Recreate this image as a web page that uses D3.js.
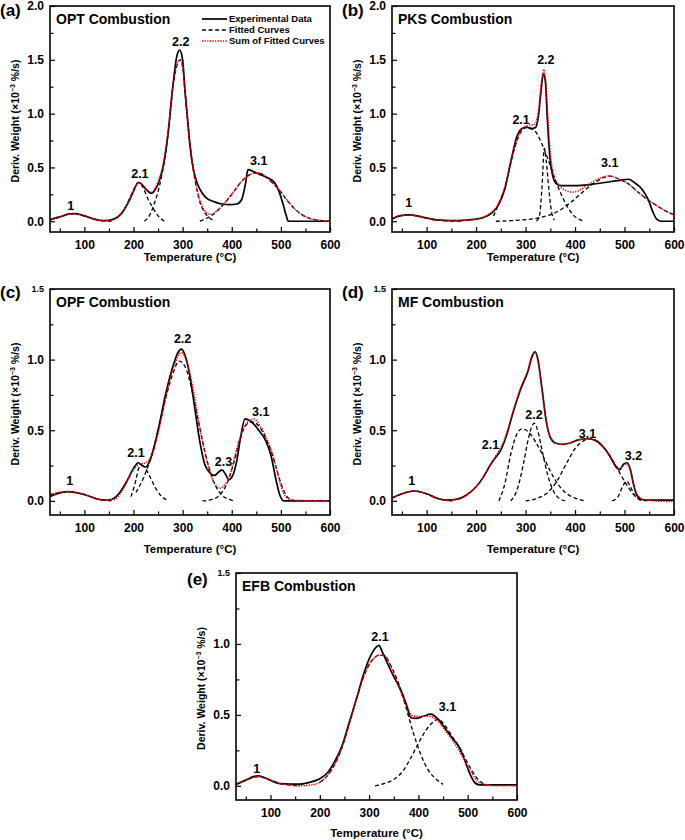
<!DOCTYPE html>
<html><head><meta charset="utf-8">
<script src="https://cdn.jsdelivr.net/npm/d3@7"></script>
<style>
body{margin:0;background:#fff;}
svg{font-family:"Liberation Sans",Arial,Helvetica,sans-serif;font-weight:bold;}
</style></head><body>
<svg id="chart" width="685" height="840"></svg>
<script>
// ---------- tick values ----------
const xTicks = [100, 200, 300, 400, 500, 600];
const xMinor = [50, 150, 250, 350, 450, 550];
const yTicksTall = [0, 0.5, 1.0, 1.5, 2.0];
const yMinorTall = [0.25, 0.75, 1.25, 1.75];
const yTicksShort = [0, 0.5, 1.0, 1.5];
const yMinorShort = [0.25, 0.75, 1.25];
const legendItems = ["Experimental Data", "Fitted Curves", "Sum of Fitted Curves"];

// ---------- (a) OPT ----------
const optExp = [[30,0.015],[50,0.04],[70,0.068],[82,0.07],[100,0.05],[120,0.02],[140,0.005],[160,0.02],[175,0.07],[190,0.18],[200,0.28],[210,0.36],[215,0.35],[225,0.3],[236,0.26],[245,0.3],[252,0.37],[260,0.5],[270,0.8],[280,1.25],[288,1.53],[294,1.59],[300,1.5],[305,1.2],[310,0.95],[315,0.7],[322,0.48],[330,0.35],[340,0.26],[350,0.21],[365,0.18],[380,0.16],[395,0.155],[410,0.16],[420,0.2],[428,0.35],[433,0.48],[445,0.46],[460,0.43],[475,0.4],[487,0.36],[496,0.28],[505,0.15],[511,0.05],[515,0.0],[600,0.0]];
const optSum = [[30,0.012],[50,0.04],[70,0.065],[82,0.067],[100,0.05],[120,0.02],[140,0.005],[160,0.02],[175,0.07],[190,0.18],[200,0.28],[210,0.36],[217,0.34],[226,0.29],[237,0.27],[250,0.37],[260,0.52],[270,0.82],[280,1.25],[290,1.48],[295,1.5],[300,1.44],[305,1.2],[310,0.95],[318,0.6],[325,0.4],[335,0.2],[345,0.1],[355,0.065],[365,0.08],[380,0.14],[400,0.25],[420,0.37],[440,0.44],[450,0.45],[465,0.43],[480,0.37],[495,0.3],[510,0.21],[525,0.13],[540,0.07],[560,0.025],[580,0.008],[600,0.002]];
const optFit1 = [[30,0.012],[50,0.04],[70,0.065],[82,0.067],[100,0.05],[120,0.02],[140,0.005],[155,0.0]];
const optFit21 = [[165,0.03],[180,0.1],[195,0.24],[210,0.36],[220,0.31],[228,0.22],[240,0.12],[250,0.05],[263,0.0]];
const optFit22 = [[222,0.0],[232,0.05],[242,0.16],[253,0.33],[262,0.54],[270,0.8],[280,1.24],[290,1.47],[295,1.5],[300,1.44],[305,1.2],[310,0.95],[318,0.6],[325,0.39],[335,0.18],[345,0.08],[355,0.03],[366,0.0]];
const optFit31 = [[335,0.0],[350,0.03],[365,0.075],[380,0.14],[400,0.25],[420,0.37],[440,0.44],[450,0.45],[465,0.43],[480,0.37],[495,0.3],[510,0.21],[525,0.13],[540,0.07],[560,0.025],[580,0.008],[600,0.002]];
const optLabels = [["1",72,0.1],["2.1",213,0.405],["2.2",296,1.63],["3.1",455,0.525]];

// ---------- (b) PKS ----------
const pksExp = [[30,0.02],[45,0.05],[65,0.06],[85,0.045],[100,0.03],[120,0.012],[150,0.005],[180,0.01],[200,0.02],[215,0.035],[230,0.07],[245,0.15],[258,0.3],[270,0.55],[282,0.78],[292,0.86],[302,0.875],[312,0.86],[320,0.87],[326,0.98],[331,1.2],[336,1.37],[340,1.3],[344,0.95],[349,0.6],[355,0.42],[362,0.35],[372,0.33],[400,0.33],[430,0.34],[460,0.36],[490,0.38],[508,0.39],[520,0.36],[535,0.3],[548,0.2],[557,0.09],[565,0.02],[575,0.0],[600,0.0]];
const pksSum = [[30,0.02],[45,0.05],[65,0.06],[85,0.045],[100,0.03],[120,0.012],[150,0.005],[180,0.01],[200,0.02],[215,0.04],[230,0.08],[245,0.16],[258,0.32],[270,0.55],[282,0.75],[292,0.85],[305,0.89],[318,0.9],[326,1.02],[332,1.3],[337,1.41],[341,1.28],[345,0.98],[350,0.64],[356,0.45],[365,0.35],[380,0.29],[395,0.27],[410,0.29],[430,0.35],[450,0.4],[468,0.42],[490,0.39],[510,0.34],[530,0.26],[550,0.19],[570,0.13],[590,0.08],[600,0.06]];
const pksFit1 = [[30,0.02],[45,0.05],[65,0.06],[85,0.045],[100,0.03],[120,0.012],[150,0.003],[170,0.0]];
const pksFit21 = [[235,0.05],[245,0.15],[258,0.31],[270,0.54],[282,0.74],[292,0.84],[302,0.87],[312,0.86],[322,0.82],[332,0.73],[345,0.58],[358,0.41],[372,0.25],[385,0.13],[398,0.05],[410,0.015],[415,0.005]];
const pksFit22 = [[322,0.0],[328,0.05],[333,0.3],[338,0.68],[342,0.55],[347,0.3],[352,0.1],[358,0.01]];
const pksFit31 = [[240,0.0],[270,0.005],[300,0.015],[330,0.035],[360,0.08],[390,0.17],[415,0.27],[440,0.36],[460,0.41],[470,0.42],[490,0.39],[510,0.34],[530,0.26],[550,0.19],[570,0.13],[590,0.08],[600,0.06]];
const pksLabels = [["1",64,0.135],["2.1",291,0.9],["2.2",341,1.46],["3.1",470,0.5]];

// ---------- (c) OPF ----------
const opfExp = [[30,0.03],[45,0.05],[65,0.065],[80,0.06],[100,0.045],[120,0.02],[140,0.005],[155,0.01],[170,0.05],[185,0.13],[200,0.23],[210,0.27],[218,0.25],[225,0.24],[235,0.3],[250,0.5],[265,0.75],[280,0.95],[292,1.06],[298,1.075],[305,1.03],[315,0.88],[325,0.65],[335,0.42],[345,0.26],[355,0.2],[365,0.18],[372,0.2],[380,0.22],[387,0.19],[394,0.15],[402,0.18],[410,0.28],[418,0.45],[427,0.58],[440,0.56],[455,0.5],[470,0.42],[480,0.32],[490,0.15],[498,0.04],[506,0.0],[600,0.0]];
const opfSum = [[30,0.045],[50,0.06],[68,0.065],[100,0.045],[125,0.015],[140,0.005],[160,0.01],[175,0.06],[190,0.16],[202,0.23],[212,0.26],[225,0.27],[240,0.35],[255,0.55],[270,0.8],[285,0.98],[297,1.05],[310,0.97],[320,0.82],[335,0.52],[350,0.27],[362,0.14],[375,0.09],[385,0.11],[395,0.17],[405,0.3],[418,0.46],[430,0.55],[444,0.58],[458,0.53],[470,0.45],[485,0.31],[495,0.17],[505,0.06],[515,0.015],[530,0.003],[600,0.0]];
const opfFit1 = [[30,0.045],[50,0.06],[68,0.065],[100,0.045],[125,0.015],[140,0.005],[155,0.0]];
const opfFit21 = [[195,0.03],[203,0.12],[212,0.24],[218,0.25],[226,0.22],[235,0.16],[245,0.09],[255,0.04],[268,0.005]];
const opfFit22 = [[205,0.06],[220,0.16],[235,0.3],[250,0.5],[265,0.72],[280,0.9],[293,0.99],[305,0.95],[318,0.8],[330,0.6],[342,0.4],[355,0.22],[368,0.1],[380,0.04],[395,0.01],[405,0.0]];
const opfFit31 = [[340,0.0],[360,0.01],[375,0.04],[390,0.12],[405,0.28],[418,0.45],[430,0.54],[442,0.56],[455,0.53],[470,0.44],[485,0.3],[495,0.18],[505,0.08],[515,0.02],[530,0.0]];
const opfLabels = [["1",70,0.11],["2.1",205,0.31],["2.2",300,1.115],["2.3",383,0.25],["3.1",459,0.6]];

// ---------- (d) MF ----------
const mfExp = [[30,0.02],[50,0.05],[75,0.07],[100,0.05],[120,0.02],[140,0.005],[160,0.01],[180,0.04],[200,0.1],[215,0.17],[228,0.25],[240,0.31],[250,0.36],[262,0.47],[275,0.63],[290,0.79],[305,0.92],[313,1.02],[319,1.055],[325,1.0],[333,0.8],[342,0.56],[350,0.45],[360,0.41],[375,0.4],[390,0.41],[405,0.43],[425,0.44],[440,0.43],[455,0.39],[470,0.32],[483,0.24],[490,0.22],[498,0.26],[505,0.27],[512,0.22],[518,0.12],[525,0.04],[535,0.01],[550,0.005],[600,0.005]];
const mfSum = [[30,0.02],[50,0.05],[75,0.07],[100,0.05],[120,0.02],[140,0.003],[160,0.01],[180,0.04],[200,0.1],[215,0.17],[228,0.25],[240,0.32],[250,0.38],[262,0.48],[275,0.64],[290,0.8],[305,0.93],[313,1.03],[319,1.05],[325,0.99],[333,0.79],[342,0.56],[350,0.45],[360,0.41],[375,0.4],[390,0.41],[405,0.43],[425,0.44],[440,0.43],[455,0.39],[470,0.32],[483,0.25],[490,0.23],[498,0.25],[505,0.26],[512,0.21],[518,0.12],[525,0.05],[535,0.015],[550,0.003],[600,-0.005]];
const mfFit1 = [[30,0.02],[50,0.05],[75,0.07],[100,0.05],[120,0.02],[140,0.003],[155,0.0]];
const mfFit21 = [[246,0.0],[258,0.12],[270,0.33],[282,0.47],[293,0.51],[305,0.49],[320,0.42],[335,0.32],[350,0.21],[365,0.12],[380,0.06],[400,0.02],[420,0.0]];
const mfFit22 = [[270,0.0],[283,0.08],[295,0.25],[305,0.43],[313,0.53],[318,0.55],[325,0.49],[335,0.33],[345,0.18],[355,0.08],[367,0.02],[380,0.0]];
const mfFit31 = [[300,0.0],[325,0.02],[345,0.06],[365,0.15],[385,0.28],[400,0.37],[415,0.42],[428,0.44],[445,0.42],[460,0.37],[475,0.29],[490,0.2],[505,0.11],[520,0.04],[535,0.01],[545,0.0]];
const mfFit32 = [[475,0.0],[487,0.03],[496,0.1],[504,0.14],[512,0.1],[520,0.04],[530,0.008],[538,0.0]];
const mfLabels = [["1",70,0.11],["2.1",229,0.365],["2.2",317,0.58],["3.1",425,0.445],["3.2",518,0.288]];

// ---------- (e) EFB ----------
const efbExp = [[30,0.01],[50,0.04],[65,0.065],[75,0.07],[90,0.055],[105,0.03],[120,0.015],[140,0.012],[160,0.012],[180,0.025],[200,0.05],[215,0.09],[230,0.17],[245,0.28],[260,0.45],[275,0.62],[290,0.8],[305,0.93],[315,0.98],[320,0.99],[326,0.95],[335,0.88],[350,0.77],[365,0.67],[375,0.58],[385,0.48],[395,0.475],[410,0.49],[425,0.505],[440,0.47],[455,0.4],[470,0.33],[483,0.27],[495,0.17],[505,0.08],[515,0.02],[525,0.006],[600,0.006]];
const efbSum = [[30,0.01],[50,0.04],[75,0.065],[100,0.04],[120,0.015],[140,0.005],[160,0.0],[180,0.005],[200,0.025],[215,0.07],[230,0.15],[245,0.27],[260,0.44],[275,0.62],[290,0.78],[305,0.88],[320,0.92],[330,0.92],[345,0.83],[360,0.7],[375,0.57],[390,0.49],[405,0.49],[420,0.49],[435,0.47],[450,0.41],[465,0.34],[480,0.26],[495,0.17],[510,0.08],[520,0.03],[535,0.01],[560,0.0],[600,0.0]];
const efbFit1 = [[30,0.01],[50,0.04],[75,0.065],[100,0.04],[120,0.015],[140,0.005],[160,0.0]];
const efbFit21 = [[200,0.025],[215,0.07],[230,0.15],[245,0.27],[260,0.44],[275,0.62],[290,0.78],[305,0.88],[320,0.92],[330,0.92],[345,0.84],[360,0.72],[375,0.55],[390,0.37],[405,0.22],[420,0.11],[435,0.05],[450,0.01]];
const efbFit31 = [[312,0.0],[330,0.015],[350,0.045],[370,0.11],[385,0.2],[400,0.3],[415,0.39],[430,0.45],[440,0.47],[455,0.42],[470,0.34],[485,0.26],[500,0.16],[515,0.07],[530,0.02],[550,0.0]];
const efbLabels = [["1",72,0.09],["2.1",322,1.02],["3.1",459,0.527]];

// ---------- layout ----------
const panels = [
  {letter:"(a)", title:"OPT Combustion", exp:optExp, sum:optSum, fits:[optFit1,optFit21,optFit22,optFit31], labels:optLabels,
   yMax:2.0, yTicks:yTicksTall, yMinor:yMinorTall, L:50, R:330, T:6, B:232, lx:0, ly:15.5, xTitleGap:29, legend:true, smallTop:false},
  {letter:"(b)", title:"PKS Combustion", exp:pksExp, sum:pksSum, fits:[pksFit1,pksFit21,pksFit22,pksFit31], labels:pksLabels,
   yMax:2.0, yTicks:yTicksTall, yMinor:yMinorTall, L:392, R:674, T:6, B:232, lx:342, ly:15.5, xTitleGap:29, legend:false, smallTop:false},
  {letter:"(c)", title:"OPF Combustion", exp:opfExp, sum:opfSum, fits:[opfFit1,opfFit21,opfFit22,opfFit31], labels:opfLabels,
   yMax:1.5, yTicks:yTicksShort, yMinor:yMinorShort, L:50, R:330, T:289, B:515, lx:0, ly:298, xTitleGap:38, legend:false, smallTop:true},
  {letter:"(d)", title:"MF Combustion", exp:mfExp, sum:mfSum, fits:[mfFit1,mfFit21,mfFit22,mfFit31,mfFit32], labels:mfLabels,
   yMax:1.5, yTicks:yTicksShort, yMinor:yMinorShort, L:392, R:674, T:289, B:515, lx:342, ly:298, xTitleGap:38, legend:false, smallTop:true},
  {letter:"(e)", title:"EFB Combustion", exp:efbExp, sum:efbSum, fits:[efbFit1,efbFit21,efbFit31], labels:efbLabels,
   yMax:1.5, yTicks:yTicksShort, yMinor:yMinorShort, L:236, R:517, T:573, B:800, lx:187, ly:585, xTitleGap:37, legend:false, smallTop:true}
];

const svg = d3.select("#chart");
const defs = svg.append("defs");

function styleAxis(g){
  g.attr("font-family", null).attr("font-size", null);
  g.select(".domain").remove();
  g.selectAll(".tick line").attr("stroke", "#000").attr("stroke-width", 1.2);
  g.selectAll(".tick text").attr("fill", "#000").style("font-size", "12px").style("font-weight", "bold");
}

panels.forEach((p, i) => {
  const x = d3.scaleLinear().domain([30, 600]).range([p.L, p.R]);
  const y = d3.scaleLinear().domain([-0.1, p.yMax]).range([p.B, p.T]);
  const g = svg.append("g");
  const cid = "clip" + i;
  defs.append("clipPath").attr("id", cid).append("rect")
    .attr("x", p.L).attr("y", p.T).attr("width", p.R - p.L).attr("height", p.B - p.T);

  const line = d3.line().x(d => x(d[0])).y(d => y(d[1])).curve(d3.curveMonotoneX);
  const cg = g.append("g").attr("clip-path", `url(#${cid})`);
  cg.append("path").datum(p.exp).attr("d", line).attr("fill", "none")
    .attr("stroke", "#000").attr("stroke-width", 1.7).attr("stroke-linejoin", "round");
  p.fits.forEach(f => {
    cg.append("path").datum(f).attr("d", line).attr("fill", "none")
      .attr("stroke", "#000").attr("stroke-width", 1.3).attr("stroke-dasharray", "4,2.6");
  });
  cg.append("path").datum(p.sum).attr("d", line).attr("fill", "none")
    .attr("stroke", "#ff0000").attr("stroke-width", 1.5).attr("stroke-dasharray", "1.3,1.3");

  // axes
  g.append("g").attr("transform", `translate(0,${p.B})`)
    .call(d3.axisBottom(x).tickValues(xTicks).tickSize(-5).tickPadding(8.5).tickFormat(d3.format("d")))
    .call(styleAxis);
  g.append("g").attr("transform", `translate(0,${p.B})`)
    .call(d3.axisBottom(x).tickValues(xMinor).tickSize(-3.5).tickFormat(""))
    .call(styleAxis);
  const ya = g.append("g").attr("transform", `translate(${p.L},0)`)
    .call(d3.axisLeft(y).tickValues(p.yTicks).tickSize(-5).tickPadding(6).tickFormat(d3.format(".1f")))
    .call(styleAxis);
  if (p.smallTop) {
    ya.selectAll(".tick text").filter(d => d === p.yMax).style("font-size", "9px");
  }
  g.append("g").attr("transform", `translate(${p.L},0)`)
    .call(d3.axisLeft(y).tickValues(p.yMinor).tickSize(-3.5).tickFormat(""))
    .call(styleAxis);

  // frame
  g.append("rect").attr("x", p.L).attr("y", p.T).attr("width", p.R - p.L).attr("height", p.B - p.T)
    .attr("fill", "none").attr("stroke", "#000").attr("stroke-width", 1.6);

  // peak labels
  g.selectAll("text.peak").data(p.labels).enter().append("text").attr("class", "peak")
    .attr("x", d => x(d[1])).attr("y", d => y(d[2])).attr("text-anchor", "middle")
    .style("font-size", "12.5px").text(d => d[0]);

  // title
  g.append("text").attr("x", p.L + 6).attr("y", p.T + 17.5).style("font-size", "14px").text(p.title);
  // panel letter
  g.append("text").attr("x", p.lx).attr("y", p.ly).style("font-size", "17px").text(p.letter);
  // x title
  g.append("text").attr("x", (p.L + p.R) / 2).attr("y", p.B + p.xTitleGap).attr("text-anchor", "middle")
    .style("font-size", "11.5px").text("Temperature (°C)");
  // y title
  const yt = g.append("text").attr("transform", `translate(${p.L - 31},${(p.T + p.B) / 2 + 2}) rotate(-90)`)
    .attr("text-anchor", "middle").style("font-size", "10.5px");
  yt.append("tspan").text("Deriv. Weight (×10");
  yt.append("tspan").attr("dy", -4).style("font-size", "7px").text("−3");
  yt.append("tspan").attr("dy", 4).text(" %/s)");

  // legend
  if (p.legend) {
    const styles = [
      {dash: null, color: "#000", w: 1.7},
      {dash: "4,2.6", color: "#000", w: 1.5},
      {dash: "1.3,1.3", color: "#ff0000", w: 1.5}
    ];
    legendItems.forEach((t, k) => {
      const yy = p.T + 13 + k * 11;
      g.append("line").attr("x1", p.R - 128).attr("x2", p.R - 103).attr("y1", yy).attr("y2", yy)
        .attr("stroke", styles[k].color).attr("stroke-width", styles[k].w)
        .attr("stroke-dasharray", styles[k].dash);
      g.append("text").attr("x", p.R - 101).attr("y", yy + 3.4).style("font-size", "9.5px").text(t);
    });
  }
});
</script>
</body></html>
